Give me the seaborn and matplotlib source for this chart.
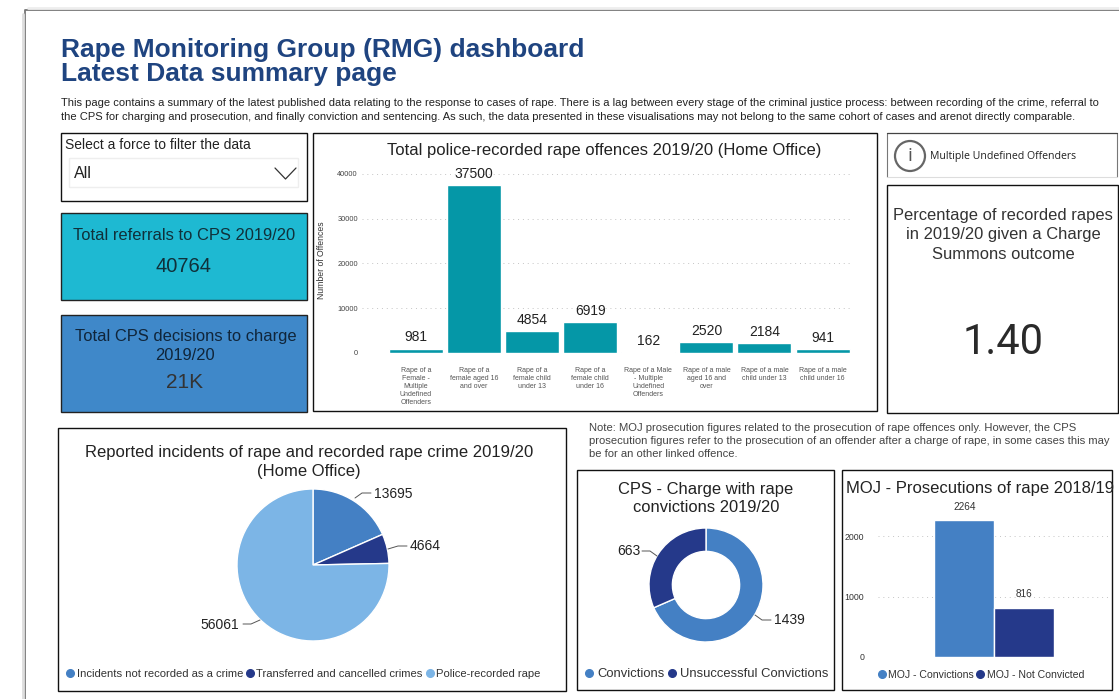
import pandas as pd
import seaborn as sns
import matplotlib.pyplot as plt
from matplotlib.lines import Line2D
from matplotlib.patches import Rectangle, Circle

W, H = 1119, 699

offence_labels = ['Rape of a\nFemale -\nMultiple\nUndefined\nOffenders', 'Rape of a\nfemale aged 16\nand over',
                  'Rape of a\nfemale child\nunder 13', 'Rape of a\nfemale child\nunder 16',
                  'Rape of a Male\n- Multiple\nUndefined\nOffenders', 'Rape of a male\naged 16 and\nover',
                  'Rape of a male\nchild under 13', 'Rape of a male\nchild under 16']
offence_counts = [981, 37500, 4854, 6919, 162, 2520, 2184, 941]
offence_ticks = [0, 10000, 20000, 30000, 40000]

incident_labels = ['Incidents not recorded as a crime', 'Transferred and cancelled crimes', 'Police-recorded rape']
incident_counts = [13695, 4664, 56061]

cps_labels = ['Convictions', 'Unsuccessful Convictions']
cps_counts = [1439, 663]

moj_labels = ['MOJ - Convictions', 'MOJ - Not Convicted']
moj_counts = [2264, 816]
moj_ticks = [0, 1000, 2000]

TEAL = '#0597a7'
BLUE = '#4480c4'
NAVY = '#25398a'
LIGHT = '#7cb5e6'
TITLE = '#1f4480'
TEXT = '#222222'

sns.set_theme(style='white')
plt.rcParams['font.family'] = ['Liberation Sans', 'DejaVu Sans']

fig = plt.figure(figsize=(W / 100, H / 100), dpi=100, facecolor='white')


def px_axes(x0, y0, x1, y1, **kw):
    # axes placed by pixel box, y measured from the top
    return fig.add_axes([x0 / W, 1 - y1 / H, (x1 - x0) / W, (y1 - y0) / H], **kw)


def style_bars(ax, ticks):
    ax.set_yticks(ticks)
    ax.set_xlabel('')
    ax.set_ylabel('')
    ax.grid(axis='y', color='#c4c4c4', lw=0.7, ls=(0, (1, 4)))
    ax.set_axisbelow(True)
    ax.tick_params(length=0)
    ax.patch.set_alpha(0)
    sns.despine(ax=ax, left=True, bottom=True)


def dot_legend(labels, colors, x, y, size):
    handles = [Line2D([], [], ls='', marker='o', ms=5.5, color=c) for c in colors]
    fig.legend(handles, labels, loc='center', bbox_to_anchor=(x / W, 1 - y / H), ncol=len(labels),
               frameon=False, fontsize=size, handlelength=0.8, handletextpad=0.2, columnspacing=0.2,
               labelcolor='#333333', borderpad=0)


# page furniture drawn on a full size axes in pixel coordinates
bg = px_axes(0, 0, W, H)
bg.set_xlim(0, W)
bg.set_ylim(H, 0)
bg.axis('off')
bg.plot([25, 25, W], [H, 10, 10], color='#777777', lw=1.3)
bg.plot([22.5, 22.5], [14, H], color='#dddddd', lw=2)
bg.plot([28, W], [7.5, 7.5], color='#eeeeee', lw=2)

boxes = [(61, 133, 307, 201), (313, 133, 877, 411), (887, 185, 1118, 413),
         (58, 428, 566, 691), (577, 470, 834, 690), (842, 470, 1112, 690)]
for x0, y0, x1, y1 in boxes:
    bg.add_patch(Rectangle((x0, y0), x1 - x0, y1 - y0, fc='white', ec='#111111', lw=1))
bg.add_patch(Rectangle((61, 213), 246, 87, fc='#1eb9d2', ec='#222222', lw=1))
bg.add_patch(Rectangle((61, 315), 246, 97, fc='#3f88c9', ec='#222222', lw=1))

bg.text(61, 49.5, 'Rape Monitoring Group (RMG) dashboard', fontsize=19, fontweight='bold', color=TITLE, va='center')
bg.text(61, 74.5, 'Latest Data summary page', fontsize=19, fontweight='bold', color=TITLE, va='center')
bg.text(61, 103.5, 'This page contains a summary of the latest published data relating to the response to cases of rape. '
        'There is a lag between every stage of the criminal justice process: between recording of the crime, referral to',
        fontsize=8.05, color=TEXT, va='center')
bg.text(61, 116.5, 'the CPS for charging and prosecution, and finally conviction and sentencing. As such, the data presented '
        'in these visualisations may not belong to the same cohort of cases and arenot directly comparable.',
        fontsize=8.05, color=TEXT, va='center')

# slicer
bg.text(65, 145, 'Select a force to filter the data', fontsize=10, color=TEXT, va='center')
bg.add_patch(Rectangle((69, 158), 229, 29, fc='white', ec='#eeeeee', lw=1))
bg.text(74, 173, 'All', fontsize=11.5, color=TEXT, va='center')
bg.plot([275, 285.5, 296], [168, 179, 168], color='#333333', lw=0.9)

# cards
bg.text(184, 235, 'Total referrals to CPS 2019/20', fontsize=11.9, color='#10303a', ha='center', va='center')
bg.text(184, 267, '40764', fontsize=14.5, color='#10303a', ha='center', va='center')
bg.text(186, 337, 'Total CPS decisions to charge', fontsize=11.9, color='#10253a', ha='center', va='center')
bg.text(185, 356, '2019/20', fontsize=11.9, color='#10253a', ha='center', va='center')
bg.text(185, 382, '21K', fontsize=15, color='#333333', ha='center', va='center')

# info box
bg.plot([887, 887], [133, 177], color='#777777', lw=0.8)
bg.plot([1117, 1117], [133, 177], color='#777777', lw=0.8)
bg.plot([887, 1117], [133, 133], color='#444444', lw=0.9)
bg.plot([887, 1117], [177, 177], color='#dddddd', lw=0.8)
bg.add_patch(Circle((910, 156), 15, fc='white', ec='#666666', lw=1.6))
bg.text(910, 156, 'i', fontsize=14, color='#555555', ha='center', va='center', family='Open Sans')
bg.text(930, 157, 'Multiple Undefined Offenders', fontsize=7.6, color=TEXT, va='center', family='Open Sans')

bg.text(1003, 235, 'Percentage of recorded rapes\nin 2019/20 given a Charge\nSummons outcome', fontsize=11.9,
        color='#333333', ha='center', va='center', linespacing=1.35)
bg.text(1003, 342, '1.40', fontsize=30, color='#2a2a2a', ha='center', va='center', family='Roboto')

# panel titles
bg.text(604, 150, 'Total police-recorded rape offences 2019/20 (Home Office)', fontsize=12, color=TEXT, ha='center', va='center')
bg.text(322, 260, 'Number of Offences', fontsize=6.2, color='#333333', rotation=90, ha='center', va='center')
bg.text(309, 462, 'Reported incidents of rape and recorded rape crime 2019/20\n(Home Office)', fontsize=12,
        color=TEXT, ha='center', va='center', linespacing=1.35)
bg.text(706, 498.5, 'CPS - Charge with rape\nconvictions 2019/20', fontsize=11.9, color=TEXT, ha='center', va='center', linespacing=1.3)
bg.text(980, 488, 'MOJ - Prosecutions of rape 2018/19', fontsize=12, color=TEXT, ha='center', va='center')
bg.text(589, 441, 'Note: MOJ prosecution figures related to the prosecution of rape offences only. However, the CPS\n'
        'prosecution figures refer to the prosecution of an offender after a charge of rape, in some cases this may\n'
        'be for an other linked offence.', fontsize=8.1, color='#444444', va='center', linespacing=1.4)

# police recorded offences
df = pd.DataFrame({'offence': offence_labels, 'count': offence_counts})
ax = px_axes(362, 174, 851, 353)
sns.barplot(data=df, x='offence', y='count', color=TEAL, saturation=1, width=0.93, ax=ax)
style_bars(ax, offence_ticks)
ax.set_xlim(-0.93, 7.49)
ax.set_ylim(0, 40000)
ax.tick_params(axis='y', labelsize=5.3, labelcolor='#444444', pad=3)
ax.tick_params(axis='x', labelsize=5, labelcolor='#555555', pad=10)
for t in ax.get_xticklabels():
    t.set_linespacing(1.2)
ax.bar_label(ax.containers[0], fontsize=10, color=TEXT, padding=3)

# reported incidents pie
ax = px_axes(237, 489, 389, 641)
ax.pie(incident_counts, colors=[BLUE, NAVY, LIGHT], startangle=90, counterclock=False, radius=1)
ax.set_xlim(-1, 1)
ax.set_ylim(-1, 1)
for w in ax.patches:
    w.set_clip_on(False)

# CPS donut
ax = px_axes(649, 528, 763, 642)
ax.pie(cps_counts, colors=[BLUE, NAVY], startangle=90, counterclock=False, radius=1, wedgeprops={'width': 0.41})
ax.set_xlim(-1, 1)
ax.set_ylim(-1, 1)
for w in ax.patches:
    w.set_clip_on(False)

# MOJ prosecutions
ax = px_axes(878, 518, 1110, 657)
sns.barplot(x=[''] * 2, y=moj_counts, hue=moj_labels, palette=[BLUE, NAVY], saturation=1, width=0.513, legend=False, ax=ax)
style_bars(ax, moj_ticks)
ax.set_xlim(-0.5, 0.5)
ax.set_ylim(0, 2300)
ax.tick_params(axis='y', labelsize=6.3, labelcolor='#333333', pad=10)
ax.tick_params(axis='x', labelbottom=False)
for c in ax.containers:
    ax.bar_label(c, fontsize=7.2, color='#333333', padding=6)

# value labels with leader lines, on top of the charts
fg = px_axes(0, 0, W, H)
fg.set_xlim(0, W)
fg.set_ylim(H, 0)
fg.axis('off')
fg.patch.set_alpha(0)
leaders = [([355, 362, 371], [498, 493, 493]), ([388, 398, 407], [549, 546, 546]), ([243, 251, 260], [624, 624, 620]),
           ([642, 650, 657], [551, 551, 556]), ([755, 762, 771], [615, 620, 620])]
for xs, ys in leaders:
    fg.plot(xs, ys, color='#555555', lw=0.7)
fg.text(374, 494, str(incident_counts[0]), fontsize=10, color=TEXT, va='center')
fg.text(410, 546, str(incident_counts[1]), fontsize=10, color=TEXT, va='center')
fg.text(239, 625, str(incident_counts[2]), fontsize=10, color=TEXT, va='center', ha='right')
fg.text(640, 551, str(cps_counts[1]), fontsize=10, color=TEXT, va='center', ha='right')
fg.text(774, 620, str(cps_counts[0]), fontsize=10, color=TEXT, va='center')

# legends
dot_legend(incident_labels, [BLUE, NAVY, LIGHT], 303, 674, 8.1)
dot_legend(cps_labels, [BLUE, NAVY], 706, 674, 9.4)
dot_legend(moj_labels, [BLUE, NAVY], 981, 675, 7.6)

fig.savefig('out.png', dpi=100)
